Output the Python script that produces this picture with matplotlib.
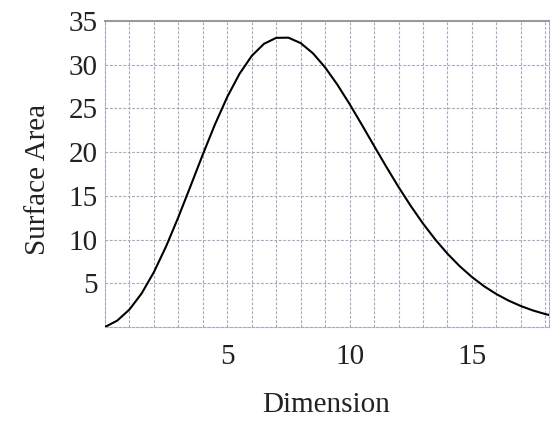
import matplotlib
matplotlib.use("Agg")
import matplotlib.pyplot as plt

# dimension vs surface area of the unit sphere
dimension = [0, 0.5, 1, 1.5, 2, 2.5, 3, 3.5, 4, 4.5, 5, 5.5, 6, 6.5, 7, 7.5,
             8, 8.5, 9, 9.5, 10, 10.5, 11, 11.5, 12, 12.5, 13, 13.5, 14,
             14.5, 15, 15.5, 16, 16.5, 17, 17.5, 18, 18.5]
surface_area = [0.0, 0.73, 2.0, 3.85, 6.28, 9.23, 12.57, 16.13, 19.74, 23.2,
                26.32, 28.96, 31.01, 32.39, 33.07, 33.09, 32.47, 31.31, 29.69,
                27.72, 25.5, 23.14, 20.72, 18.33, 16.02, 13.85, 11.84, 10.02,
                8.39, 6.96, 5.72, 4.66, 3.77, 3.02, 2.4, 1.89, 1.48, 1.15]

x_ticks = [5, 10, 15]
y_ticks = [5, 10, 15, 20, 25, 30, 35]

plt.rcParams['font.family'] = ['Liberation Serif', 'DejaVu Serif']

fig = plt.figure(figsize=(5.57, 4.37), dpi=100)
ax = fig.add_axes([0.1885, 0.2517, 0.797, 0.7003])

ax.plot(dimension, surface_area, color='black', lw=1.5, zorder=3)

ax.set_xlim(0, 18.15)
ax.set_ylim(0, 35)

# grid: every unit on x, every 5 on y
grid_style = dict(color='#a8a8c4', lw=0.8, linestyle=(0, (2.5, 1.5)), zorder=1)
for gx in range(1, 19):
    ax.axvline(gx, **grid_style)
for gy in range(5, 35, 5):
    ax.axhline(gy, **grid_style)

ax.set_xticks(x_ticks)
ax.set_yticks(y_ticks)
ax.tick_params(length=0, labelsize=21, colors='#222222')
ax.tick_params(axis='x', pad=12)
ax.tick_params(axis='y', pad=5)

for side in ['left', 'bottom', 'right']:
    ax.spines[side].set_color('#a8a8c4')
    ax.spines[side].set_linestyle((0, (2.5, 1.5)))
    ax.spines[side].set_linewidth(0.8)
ax.spines['top'].set_color('#999999')
ax.spines['top'].set_linewidth(1.5)

fig.text(0.585, 0.073, 'Dimension', fontsize=21, ha='center', va='center', color='#222222')
fig.text(0.068, 0.59, 'Surface Area', fontsize=21, ha='center', va='center',
         rotation=90, color='#222222')

fig.savefig('out.png', dpi=100)
